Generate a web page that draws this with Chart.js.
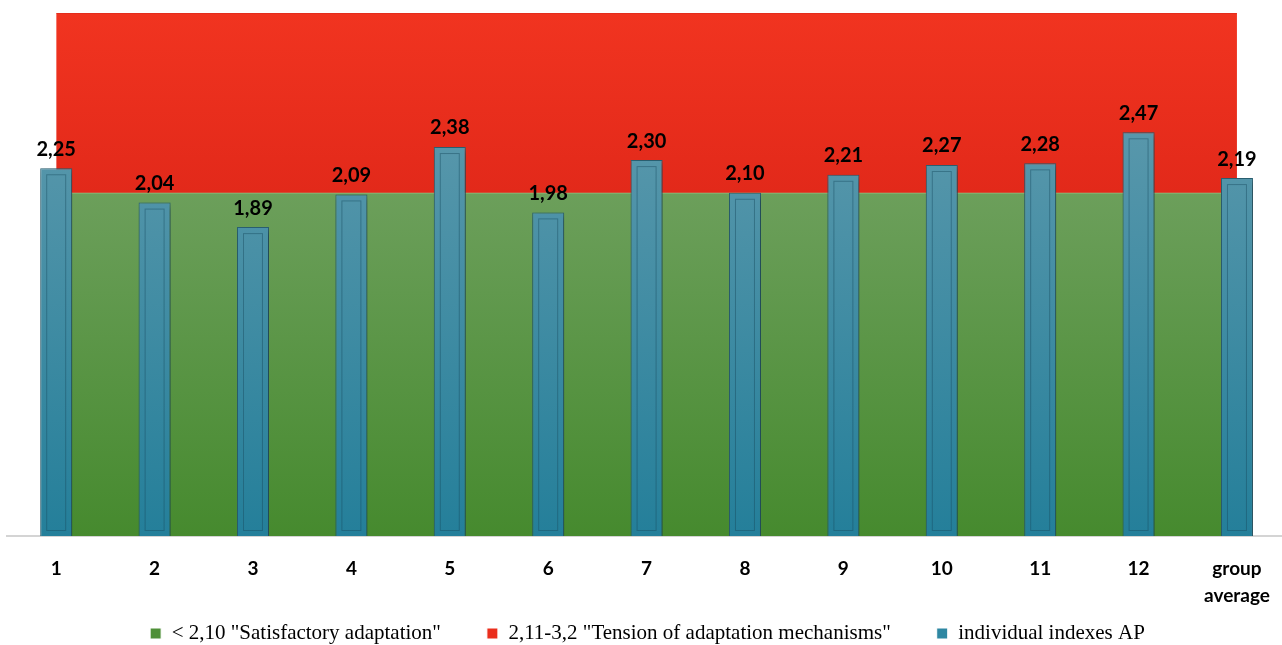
<!DOCTYPE html>
<html>
<head>
<meta charset="utf-8">
<script src="https://cdn.jsdelivr.net/npm/chart.js@4.4.1/dist/chart.umd.min.js"></script>
<style>
  html, body { margin: 0; padding: 0; background: #ffffff; overflow: hidden; }
  #wrap { width: 1290px; height: 654px; position: relative; }
</style>
</head>
<body>
<div id="wrap"><canvas id="c"></canvas></div>
<script>
const categories = ['1','2','3','4','5','6','7','8','9','10','11','12',['group','average']];
const apValues = [2.25, 2.04, 1.89, 2.09, 2.38, 1.98, 2.30, 2.10, 2.21, 2.27, 2.28, 2.47, 2.19];
const satisfactoryLimit = [2.10, 2.10, 2.10, 2.10, 2.10, 2.10, 2.10, 2.10, 2.10, 2.10, 2.10, 2.10, 2.10];
const tensionLimit = [3.2, 3.2, 3.2, 3.2, 3.2, 3.2, 3.2, 3.2, 3.2, 3.2, 3.2, 3.2, 3.2];
const seriesNames = ['< 2,10 "Satisfactory adaptation"', '2,11-3,2 "Tension of adaptation mechanisms"', 'individual indexes AP'];
const yMin = 0, yMax = 3.2;

function vGrad(ctx, top, bottom, c1, c2) {
  const g = ctx.createLinearGradient(0, top, 0, bottom);
  g.addColorStop(0, c1);
  g.addColorStop(1, c2);
  return g;
}

const greenFill = (c) => {
  const { ctx, chartArea, scales } = c.chart;
  if (!chartArea) return '#5a9444';
  return vGrad(ctx, scales.y.getPixelForValue(2.1), chartArea.bottom, '#6c9f5b', '#468a2e');
};
const redFill = (c) => {
  const { ctx, chartArea, scales } = c.chart;
  if (!chartArea) return '#ea2e1c';
  return vGrad(ctx, chartArea.top, scales.y.getPixelForValue(2.1), '#f13420', '#e2291a');
};
const barFill = (c) => {
  const { ctx, chartArea } = c.chart;
  if (!chartArea) return '#3f8aa3';
  return vGrad(ctx, chartArea.top + 120, chartArea.bottom, '#5897ab', '#247f9a');
};

const barDecor = {
  id: 'barDecor',
  beforeDatasetDraw(chart, args) {
    if (chart.data.datasets[args.index].type === 'bar') {
      const ctx = chart.ctx;
      ctx.save();
      ctx.shadowColor = 'rgba(0,0,0,0.35)';
      ctx.shadowBlur = 6;
      ctx.shadowOffsetX = 2;
      ctx.shadowOffsetY = 3;
    }
  },
  afterDatasetDraw(chart, args) {
    if (chart.data.datasets[args.index].type !== 'bar') return;
    const ctx = chart.ctx;
    ctx.restore();
    const meta = chart.getDatasetMeta(args.index);
    ctx.save();
    ctx.strokeStyle = 'rgba(25,75,95,0.45)';
    ctx.lineWidth = 1;
    meta.data.forEach((el) => {
      const w = el.width;
      const left = el.x - w / 2 + 6.5;
      const top = el.y + 6.5;
      const right = el.x + w / 2 - 6.5;
      const bottom = el.base - 5.5;
      ctx.strokeRect(left, top, right - left, bottom - top);
    });
    ctx.restore();
  }
};

const valueLabels = {
  id: 'valueLabels',
  afterDatasetsDraw(chart) {
    const idx = chart.data.datasets.findIndex(d => d.type === 'bar');
    const meta = chart.getDatasetMeta(idx);
    const ctx = chart.ctx;
    ctx.save();
    ctx.font = 'bold 20px Lato';
    ctx.fillStyle = '#000000';
    ctx.textAlign = 'center';
    ctx.textBaseline = 'middle';
    meta.data.forEach((el, i) => {
      const v = chart.data.datasets[idx].data[i];
      ctx.fillText(v.toFixed(2).replace('.', ','), el.x, el.y - 19);
    });
    ctx.restore();
  }
};

const legendColors = ['#4f9038', '#ea2e1c', '#2e87a2'];

new Chart(document.getElementById('c'), {
  data: {
    labels: categories,
    datasets: [
      {
        type: 'line', label: seriesNames[0], data: satisfactoryLimit,
        fill: 'origin', backgroundColor: greenFill, borderColor: 'rgba(140,185,120,0.8)', borderWidth: 2,
        pointRadius: 0, tension: 0, order: 2
      },
      {
        type: 'line', label: seriesNames[1], data: tensionLimit,
        fill: '-1', backgroundColor: redFill, borderColor: 'rgba(200,30,20,0.6)', borderWidth: 1,
        pointRadius: 0, tension: 0, order: 1
      },
      {
        type: 'bar', label: seriesNames[2], data: apValues,
        backgroundColor: barFill, borderColor: '#2b6274', borderWidth: 1,
        barPercentage: 0.325, categoryPercentage: 1, order: 0
      }
    ]
  },
  options: {
    responsive: true,
    maintainAspectRatio: false,
    animation: false,
    layout: { padding: { left: 7, right: 2, top: 13, bottom: 0 } },
    scales: {
      x: {
        offset: true,
        grid: { display: false, drawTicks: false },
        border: { display: true, color: '#d4d4d4', width: 2 },
        afterFit(scale) {
          scale.height = 41;
          scale._computeLabelArea = () => undefined;
        },
        ticks: {
          color: '#000000',
          font: { family: 'Lato', weight: 'bold', size: 19, lineHeight: 1.4 },
          padding: 20,
          maxRotation: 0,
          autoSkip: false
        }
      },
      y: {
        display: false,
        min: yMin, max: yMax
      }
    },
    plugins: {
      tooltip: { enabled: false },
      legend: {
        position: 'bottom',
        labels: {
          font: { family: 'Liberation Serif', size: 21 },
          color: '#1a1a1a',
          boxWidth: 11,
          boxHeight: 11,
          padding: 46,
          generateLabels(chart) {
            return chart.data.datasets.map((d, i) => ({
              text: d.label, fillStyle: legendColors[i], strokeStyle: '#ffffff', lineWidth: 1,
              hidden: false, datasetIndex: i
            }));
          }
        }
      }
    }
  },
  plugins: [barDecor, valueLabels]
});
</script>
</body>
</html>
